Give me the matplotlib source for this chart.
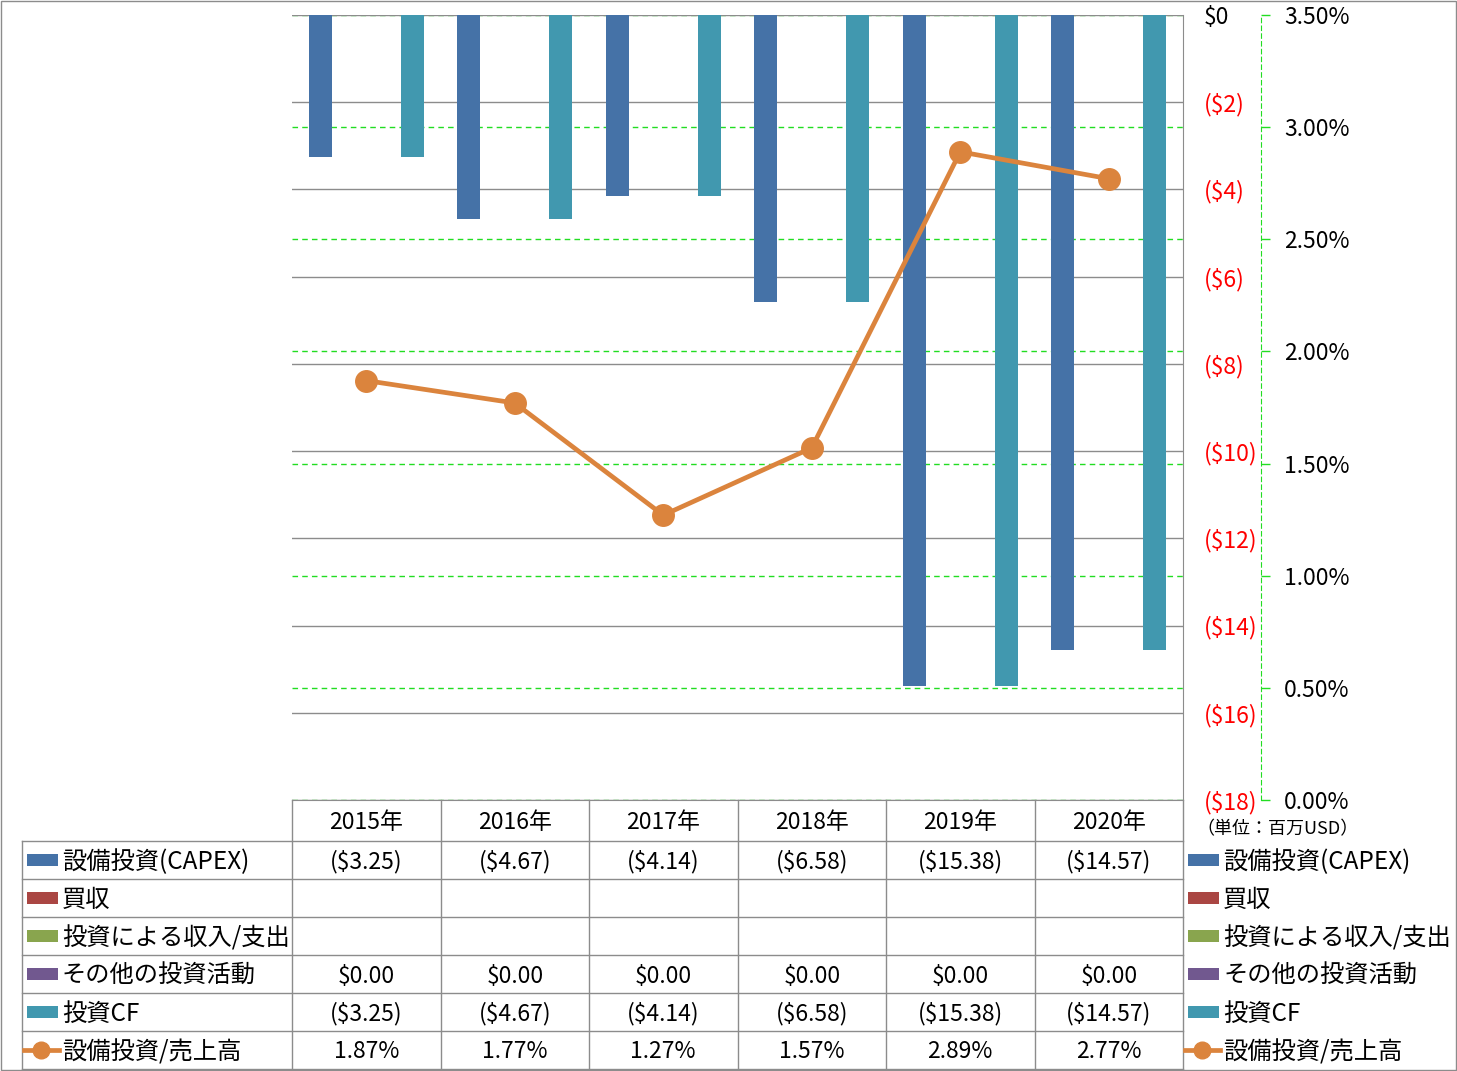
import matplotlib
matplotlib.use("Agg")
import matplotlib.pyplot as plt
import matplotlib.patches as mpatches
import numpy as np

plt.rcParams['font.family'] = ['Noto Sans CJK JP', 'DejaVu Sans']

# data
years = ["2015年", "2016年", "2017年", "2018年", "2019年", "2020年"]
series_names = ["設備投資(CAPEX)", "買収", "投資による収入/支出", "その他の投資活動", "投資CF"]
capex = [-3.25, -4.67, -4.14, -6.58, -15.38, -14.57]
acquisition = [None] * 6
invest_income = [None] * 6
other_invest = [0.0, 0.0, 0.0, 0.0, 0.0, 0.0]
invest_cf = [-3.25, -4.67, -4.14, -6.58, -15.38, -14.57]
capex_ratio = [1.87, 1.77, 1.27, 1.57, 2.89, 2.77]
ratio_name = "設備投資/売上高"
unit_note = "（単位：百万USD）"

bar_series = [capex, acquisition, invest_income, other_invest, invest_cf]
bar_colors = ["#4572A7", "#AA4643", "#89A54E", "#71588F", "#4198AF"]
line_color = "#DB843D"
grid_gray = "#8c8c8c"
green = "#22dd22"

W, H, DPI = 1457, 1071, 100
fig = plt.figure(figsize=(W / DPI, H / DPI), dpi=DPI)

# plot area in pixels
pl, pr, pt, pb = 292, 1183, 15, 800
rect = [pl / W, 1 - pb / H, (pr - pl) / W, (pb - pt) / H]
FS = 16.5
FS_LBL = 17.5

# percent axis (behind bars)
ax_pct = fig.add_axes(rect, zorder=0)
ax_pct.set_xlim(-0.5, 5.5)
ax_pct.set_ylim(0, 3.5)
pct_ticks = np.arange(0, 3.51, 0.5)
ax_pct.set_yticks(pct_ticks, [f"{v:.2f}%" for v in pct_ticks])
ax_pct.set_xticks([])
ax_pct.yaxis.tick_right()
ax_pct.yaxis.grid(True, color=green, linestyle=(0, (4, 3)), linewidth=1)
for s in ["left", "top", "bottom"]:
    ax_pct.spines[s].set_visible(False)
ax_pct.spines["right"].set_position(("axes", (1261 - pl) / (pr - pl)))
ax_pct.spines["right"].set_color(green)
ax_pct.spines["right"].set_linestyle((0, (4, 3)))
ax_pct.tick_params(axis="y", direction="out", length=6.5, width=1, color=green,
                   labelsize=FS, pad=10, labelcolor="black")

# bar axis
ax = fig.add_axes(rect, zorder=2)
ax.patch.set_visible(False)
x = np.arange(len(years))
w = 0.155
for i, (vals, col) in enumerate(zip(bar_series, bar_colors)):
    v = [np.nan if a is None else a for a in vals]
    ax.bar(x + (i - 2) * w, v, w, color=col, zorder=3)
ax.set_xlim(-0.5, 5.5)
ax.set_ylim(-18, 0)
dticks = np.arange(0, -19, -2)
dlabels = ["$0" if t == 0 else f"(${abs(t)})" for t in dticks]
ax.set_yticks(dticks, dlabels)
ax.set_xticks([])
ax.yaxis.tick_right()
ax.tick_params(axis="y", length=0, labelsize=FS, pad=15)
for tick, t in zip(ax.yaxis.get_major_ticks(), dticks):
    tick.label2.set_color("black" if t == 0 else "red")
ax.yaxis.grid(True, color=grid_gray, linewidth=1)
ax.set_axisbelow(True)
ax.spines["left"].set_visible(False)
ax.spines["top"].set_visible(False)
ax.spines["right"].set_color(grid_gray)
ax.spines["bottom"].set_color(grid_gray)

# line axis (on top)
axl = fig.add_axes(rect, zorder=3, sharex=ax)
axl.patch.set_visible(False)
axl.set_ylim(0, 3.5)
axl.plot(x, capex_ratio, color=line_color, linewidth=3.4, marker="o", markersize=15.5,
         solid_capstyle="round")
axl.axis("off")

# overlay in pixel coords for table / legend
ov = fig.add_axes([0, 0, 1, 1], zorder=1)
ov.set_xlim(0, W)
ov.set_ylim(H, 0)
ov.axis("off")

col_edges = np.linspace(pl, pr, len(years) + 1)
row_edges = [800, 841, 879, 917, 955, 993, 1031, 1069]
lc = dict(color=grid_gray, linewidth=1)
for ye in row_edges[1:]:
    ov.plot([22, pr], [ye, ye], **lc)
ov.plot([22, 22], [row_edges[1], row_edges[-1]], **lc)
for xe in col_edges:
    ov.plot([xe, xe], [row_edges[0], row_edges[-1]], **lc)

col_centers = (col_edges[:-1] + col_edges[1:]) / 2
for cx, yr in zip(col_centers, years):
    ov.text(cx, (row_edges[0] + row_edges[1]) / 2 + 2, yr, ha="center", va="center", fontsize=FS)


def money(v):
    if v is None:
        return ""
    return f"(${abs(v):.2f})" if v < 0 else f"${v:.2f}"


def draw_key(x0, yc, kind, col):
    if kind == "bar":
        ov.add_patch(mpatches.Rectangle((x0, yc - 6), 31, 12, color=col, linewidth=0))
    else:
        ov.plot([x0 - 3, x0 + 32], [yc, yc], color=col, linewidth=3.4)
        ov.plot([x0 + 14], [yc], marker="o", color=col, markersize=12)


all_rows = [(n, vals, "bar", c) for n, vals, c in zip(series_names, bar_series, bar_colors)]
all_rows.append((ratio_name, capex_ratio, "line", line_color))
for r, (name, vals, kind, col) in enumerate(all_rows):
    yc = (row_edges[r + 1] + row_edges[r + 2]) / 2
    draw_key(27, yc, kind, col)
    ov.text(62, yc + 2, name, ha="left", va="center", fontsize=FS_LBL)
    for cx, v in zip(col_centers, vals):
        txt = f"{v:.2f}%" if kind == "line" else money(v)
        ov.text(cx, yc + 2, txt, ha="center", va="center", fontsize=FS)
    # right legend
    draw_key(1188, yc, kind, col)
    ov.text(1223, yc + 2, name, ha="left", va="center", fontsize=FS_LBL)

ov.text(1196, 829, unit_note, ha="left", va="center", fontsize=13)

ov.add_patch(mpatches.Rectangle((0.5, 0.5), W - 1.5, H - 1.5, fill=False,
                                edgecolor=grid_gray, linewidth=1))

fig.savefig("out.png", dpi=DPI)
